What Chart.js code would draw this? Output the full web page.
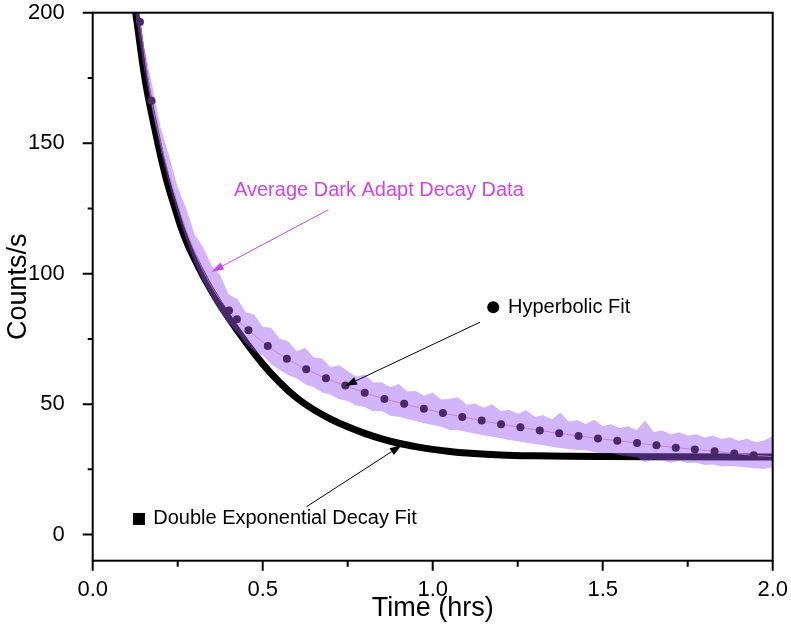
<!DOCTYPE html>
<html><head><meta charset="utf-8">
<script src="https://cdn.jsdelivr.net/npm/chart.js@4.4.1/dist/chart.umd.min.js"></script>
<style>html,body{margin:0;padding:0;background:#fff;} canvas{display:block;}</style>
</head><body>
<canvas id="c" width="791" height="629"></canvas>
<script>
// ---------- tick values ----------
const xTickValues = [0, 0.5, 1.0, 1.5, 2.0];
const xMinorTicks = [0.25, 0.75, 1.25, 1.75];
const yTickValues = [0, 50, 100, 150, 200];
const yMinorTicks = [25, 75, 125, 175];

// ---------- Average Dark Adapt Decay Data (noise envelope) ----------
const dataTime = [0.125,0.15,0.175,0.2,0.225,0.25,0.275,0.3,0.325,0.35,0.375,0.4,0.425,0.45,0.475,0.5,0.525,0.55,0.575,0.6,
  0.625,0.65,0.675,0.7,0.725,0.75,0.775,0.8,0.825,0.85,0.875,0.9,0.925,0.95,0.975,1.0,1.025,1.05,1.075,1.1,
  1.125,1.15,1.175,1.2,1.225,1.25,1.275,1.3,1.325,1.35,1.375,1.4,1.425,1.45,1.475,1.5,1.525,1.55,1.575,1.6,
  1.625,1.65,1.675,1.7,1.725,1.75,1.775,1.8,1.825,1.85,1.875,1.9,1.925,1.95,1.975,2.0];
const dataUpper = [208,188,172,156,145,133,125,115,110,103,
  99.5,92,90.4,85.2,84.3,79.6,79.3,75.1,74.1,70.3,
  71.6,68,67.5,64.1,64.9,62.7,60.5,61.4,58.3,58.4,
  56.5,57.7,54.8,55,53.2,54.5,51.8,52.1,52.5,49.8,
  50.2,48.6,50,47.4,47.8,46.3,47.7,45.2,45.7,44.2,
  46.7,43.3,43.9,42.4,44,41.6,42.3,40.9,41.5,40.1,
  43.7,39.3,39.9,38.5,39.2,37.9,38.5,37.2,37.9,36.6,
  37.3,36,36.7,35.4,36.1,37.8];
const dataLower = [200,179,162,147,134,123,113,104,97,91,
  85.5,81,77.4,73.2,70.3,68.6,65.3,63.1,61.1,59.8,
  57.6,56.5,54.5,53.6,51.9,51.2,49.5,48.9,47.3,47.4,
  45.5,45.2,44.3,43.5,42.7,42.0,41.3,40.1,40.0,39.3,
  38.7,38.1,37.5,36.9,36.3,35.8,35.2,34.7,34.2,33.7,
  33.2,32.8,32.4,32.4,31.5,31.1,31.3,30.4,30.0,29.6,
  27.7,28.8,28.4,27.5,28.2,27.4,27.5,26.7,26.9,26.1,
  26.3,26.0,25.7,25.4,25.1,25.8];

// ---------- Double Exponential Decay Fit ----------
const dexpTime = [0.12,0.13,0.14,0.15,0.16,0.18,0.20,0.22,0.24,0.26,0.28,0.30,0.32,0.34,0.36,0.38,0.40,0.43,0.46,0.50,
  0.55,0.60,0.65,0.70,0.75,0.80,0.85,0.90,0.95,1.00,1.05,1.10,1.20,1.30,1.40,1.50,1.70,2.00];
const dexpCounts = [205.5,196.8,187.1,177.9,170,157.2,145.1,134.6,126,117.7,111,105.5,100.3,95.5,91.1,86.9,83,77.4,72,65.4,
  58.3,52.4,47.9,44.3,41.3,38.8,36.7,35.0,33.7,32.65,31.85,31.25,30.55,30.2,30.0,29.9,29.8,29.7];

// ---------- Hyperbolic Fit ----------
const hypLineTime = [0.139,0.173,0.20,0.23,0.26,0.29,0.32,0.35,0.375,0.401,0.424,0.458,0.515,0.571,0.628,0.686,0.743,0.800,0.858,0.916,
  0.974,1.030,1.087,1.144,1.201,1.258,1.315,1.372,1.429,1.486,1.543,1.601,1.658,1.715,1.771,1.829,1.887,1.944,2.0];
const hypLineCounts = [196.4,166.3,150,135.5,122.5,111.5,102.5,95,90,85.9,82.5,78.3,72.3,67.4,63.4,59.9,57.1,54.4,52.0,50.1,
  48.2,46.6,45.1,43.7,42.3,41.1,39.9,38.8,37.8,36.8,36.0,35.1,34.2,33.3,32.6,31.9,31.1,30.4,29.9];
const hypDotTime = [0.139,0.173,0.401,0.424,0.458,0.515,0.571,0.628,0.686,0.743,0.800,0.858,0.916,
  0.974,1.030,1.087,1.144,1.201,1.258,1.315,1.372,1.429,1.486,1.543,1.601,1.658,1.715,1.771,1.829,1.887,1.944];
const hypDotCounts = [196.4,166.3,85.9,82.5,78.3,72.3,67.4,63.4,59.9,57.1,54.4,52.0,50.1,
  48.2,46.6,45.1,43.7,42.3,41.1,39.9,38.8,37.8,36.8,36.0,35.1,34.2,33.3,32.6,31.9,31.1,30.4];

// ---------- annotations (data units) ----------
const labelNotes = [
  {text:'Average Dark Adapt Decay Data', color:'#cc44ee', x:0.4156, y:131.8, marker:null,
   arrowFrom:[0.692,124.4], arrowTo:[0.350,100.75]},
  {text:'Hyperbolic Fit', color:'#000', x:1.2215, y:87.1, marker:{type:'circle', x:1.178},
   arrowFrom:[1.139,81.4], arrowTo:[0.742,56.95]},
  {text:'Double Exponential Decay Fit', color:'#000', x:0.178, y:6.0, marker:{type:'square', x:0.136},
   arrowFrom:[0.629,10.7], arrowTo:[0.909,34.3]}
];

const pts = (xs, ys) => xs.map((t, i) => ({x: t, y: ys[i]}));
const FONT = "'Liberation Sans', Arial, sans-serif";
Chart.defaults.font.family = FONT;
Chart.defaults.color = '#000';

function arrow(ctx, x1, y1, x2, y2, color) {
  ctx.save();
  ctx.strokeStyle = color; ctx.fillStyle = color; ctx.lineWidth = 1;
  const ang = Math.atan2(y2 - y1, x2 - x1);
  const len = 12, hw = 4;
  const bx = x2 - len * Math.cos(ang), by = y2 - len * Math.sin(ang);
  ctx.beginPath(); ctx.moveTo(x1, y1); ctx.lineTo(bx, by); ctx.stroke();
  ctx.beginPath();
  ctx.moveTo(x2, y2);
  ctx.lineTo(bx + hw * Math.sin(ang), by - hw * Math.cos(ang));
  ctx.lineTo(bx - hw * Math.sin(ang), by + hw * Math.cos(ang));
  ctx.closePath(); ctx.fill();
  ctx.restore();
}

const framePlugin = {
  id: 'frame',
  afterDraw(chart) {
    const {ctx, chartArea: a, scales: {x, y}} = chart;
    ctx.save();
    ctx.strokeStyle = '#000';
    ctx.lineWidth = 2;
    ctx.strokeRect(a.left, a.top, a.right - a.left, a.bottom - a.top);
    ctx.beginPath();
    yTickValues.forEach(v => { const p = y.getPixelForValue(v); ctx.moveTo(a.left - 10, p); ctx.lineTo(a.left, p); });
    yMinorTicks.forEach(v => { const p = y.getPixelForValue(v); ctx.moveTo(a.left - 5, p); ctx.lineTo(a.left, p); });
    xTickValues.forEach(v => { const p = x.getPixelForValue(v); ctx.moveTo(p, a.bottom); ctx.lineTo(p, a.bottom + 10); });
    xMinorTicks.forEach(v => { const p = x.getPixelForValue(v); ctx.moveTo(p, a.bottom); ctx.lineTo(p, a.bottom + 6); });
    ctx.stroke();

    ctx.font = '20px ' + FONT;
    ctx.textBaseline = 'middle';
    ctx.textAlign = 'left';
    labelNotes.forEach(n => {
      const tx = x.getPixelForValue(n.x), ty = y.getPixelForValue(n.y);
      ctx.fillStyle = n.color;
      ctx.fillText(n.text, tx, ty);
      if (n.marker) {
        const mx = x.getPixelForValue(n.marker.x);
        ctx.fillStyle = '#000';
        if (n.marker.type === 'circle') {
          ctx.beginPath(); ctx.arc(mx, ty, 6, 0, Math.PI * 2); ctx.fill();
        } else {
          ctx.fillRect(mx - 6, ty - 6, 12, 12);
        }
      }
      arrow(ctx, x.getPixelForValue(n.arrowFrom[0]), y.getPixelForValue(n.arrowFrom[1]),
                 x.getPixelForValue(n.arrowTo[0]), y.getPixelForValue(n.arrowTo[1]), n.color);
    });
    ctx.restore();
  }
};

new Chart(document.getElementById('c'), {
  type: 'line',
  data: {
    datasets: [
      { label: 'Hyperbolic Fit dots', data: pts(hypDotTime, hypDotCounts), showLine: false,
        pointRadius: 4, pointBackgroundColor: '#4b2868', pointBorderWidth: 0, borderColor: '#4b2868',
        order: 0, clip: 0 },
      { label: 'Hyperbolic Fit', data: pts(hypLineTime, hypLineCounts), borderColor: 'rgba(205,120,205,0.85)',
        borderWidth: 1, pointRadius: 0, cubicInterpolationMode: 'monotone', order: 1, clip: 0 },
      { label: 'Data upper', data: pts(dataTime, dataUpper), borderColor: 'transparent', borderWidth: 0,
        pointRadius: 0, tension: 0, fill: '+1', backgroundColor: 'rgba(155,90,240,0.45)', order: 2, clip: 0 },
      { label: 'Data lower', data: pts(dataTime, dataLower), borderColor: 'transparent', borderWidth: 0,
        pointRadius: 0, tension: 0, fill: false, order: 3, clip: 0 },
      { label: 'Double Exponential Decay Fit', data: pts(dexpTime, dexpCounts), borderColor: '#000',
        borderWidth: 7, pointRadius: 0, cubicInterpolationMode: 'monotone', order: 4, clip: 0 }
    ]
  },
  options: {
    responsive: false, animation: false, devicePixelRatio: 1,
    layout: { padding: { left: 0, top: 12.7, right: 18.3, bottom: 0 } },
    plugins: { legend: { display: false }, tooltip: { enabled: false } },
    scales: {
      x: {
        type: 'linear', min: 0, max: 2,
        grid: { display: false }, border: { display: false },
        afterBuildTicks: s => { s.ticks = xTickValues.map(v => ({value: v})); },
        afterFit: s => { s.height = 68.3; s.paddingLeft = 0; s.paddingRight = 0; },
        ticks: { font: { size: 22 }, padding: 8, color: '#000', maxRotation: 0,
                 callback: v => Number(v).toFixed(1) },
        title: { display: true, text: 'Time (hrs)', font: { size: 27 }, color: '#000', padding: { top: 0, bottom: 4 } }
      },
      y: {
        type: 'linear', min: -10, max: 200,
        grid: { display: false }, border: { display: false },
        afterBuildTicks: s => { s.ticks = yTickValues.map(v => ({value: v})); },
        afterFit: s => { s.width = 92.7; s.paddingTop = 0; s.paddingBottom = 0; },
        ticks: { font: { size: 22 }, padding: 20, color: '#000', callback: v => String(v) },
        title: { display: true, text: 'Counts/s', font: { size: 27 }, color: '#000', padding: { top: 2, bottom: 0 } }
      }
    }
  },
  plugins: [framePlugin]
});
</script>
</body></html>
